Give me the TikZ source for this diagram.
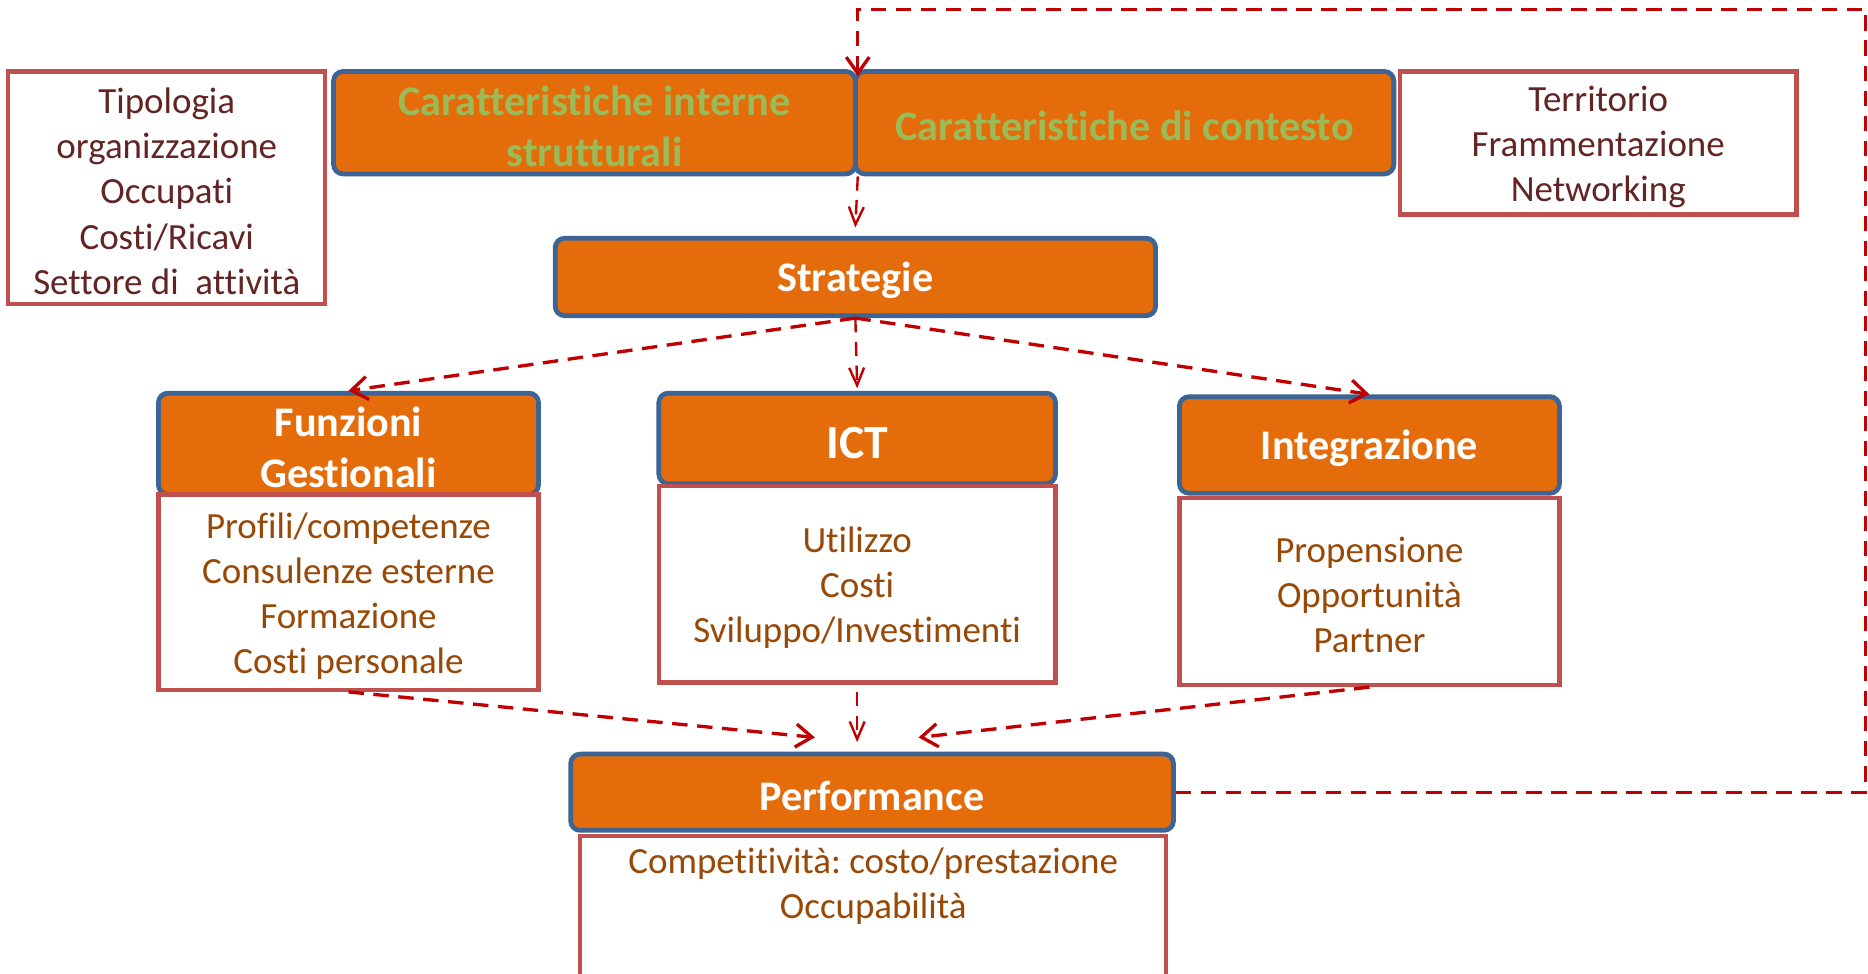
\documentclass[tikz,border=0pt]{standalone}
\usepackage{fontspec}
\setmainfont{Carlito}[Ligatures={NoCommon,NoRare}]
\frenchspacing
\usetikzlibrary{arrows.meta}
\definecolor{arancio}{HTML}{E46C0A}
\definecolor{bordoblu}{HTML}{3C6494}
\definecolor{bordorosso}{HTML}{C0504D}
\definecolor{rossoscuro}{HTML}{C00000}
\definecolor{verde}{HTML}{9BBB59}
\definecolor{marrone}{HTML}{984807}
\definecolor{bruno}{HTML}{632523}
\newcommand{\arw}{-{Straight Barb[length=2.4mm,width=3.4mm]}}
\newcommand{\arwv}{-{Straight Barb[length=2.6mm,width=2.2mm]}}
\newcommand{\alza}{\rule{0pt}{\dimexpr.7em+3pt\relax}}
\tikzset{
  titolo/.style={draw=bordoblu, line width=2pt, fill=arancio, rounded corners=4pt,
    text=white, font=\fontsize{17.7}{21.5}\selectfont\bfseries, align=center, inner sep=0pt},
  dettaglio/.style={draw=bordorosso, line width=1.8pt, fill=white, text=marrone,
    font=\fontsize{15.5}{18.9}\selectfont, align=center, inner sep=0pt},
  freccia/.style={draw=rossoscuro, line width=1.4pt, dash pattern=on 6.5pt off 4pt},
  frecciav/.style={draw=rossoscuro, line width=1pt, dash pattern=on 6pt off 4pt},
}

\begin{document}
\begin{tikzpicture}[x=.5pt,y=-.5pt]
\useasboundingbox (0,0) rectangle (1568,817);
%fattori
\node[dettaglio,text=bruno,minimum width=133pt,minimum height=97.5pt] (tipo) at (140,157.5)
  {\alza Tipologia\\organizzazione\\Occupati\\Costi/Ricavi\\Settore di\ \ attività};
\node[titolo,text=verde,minimum width=219pt,minimum height=43pt] (interne) at (499,103)
  {\alza Caratteristiche interne\\strutturali};
\node[titolo,text=verde,minimum width=226pt,minimum height=43pt] (contesto) at (944,103)
  {\alza Caratteristiche di contesto};
\node[dettaglio,text=bruno,minimum width=166.5pt,minimum height=60pt] (territorio) at (1341.5,120)
  {\alza Territorio\\Frammentazione\\Networking};
%strategie
\node[titolo,minimum width=252pt,minimum height=32.5pt] (strategie) at (718,232.5) {\alza Strategie};
\node[titolo,minimum width=159.5pt,minimum height=42.5pt] (funzioni) at (292.5,372.5)
  {\alza Funzioni\\Gestionali};
\node[dettaglio,minimum width=159.5pt,minimum height=82pt] (funzdet) at (292.5,497)
  {\alza Profili/competenze\\Consulenze esterne\\Formazione\\Costi personale};
\node[titolo,font=\fontsize{20}{24}\selectfont\bfseries,minimum width=166.5pt,minimum height=38pt] (ict) at (719.5,368) {\alza ICT};
\node[dettaglio,minimum width=166.5pt,minimum height=82.5pt] (ictdet) at (719.5,490.5)
  {\alza Utilizzo\\Costi\\Sviluppo/Investimenti};
\node[titolo,minimum width=159.5pt,minimum height=40.5pt] (integr) at (1149.5,373.5) {\alza Integrazione};
\node[dettaglio,minimum width=159.5pt,minimum height=78.5pt] (integrdet) at (1149.5,496.5)
  {\alza Propensione\\Opportunità\\Partner};
%performance
\node[titolo,minimum width=253pt,minimum height=32pt] (perf) at (732,665) {\alza Performance};
\node[dettaglio,anchor=north,minimum width=246pt,minimum height=65pt] (perfdet) at (733,700) {};
\node[dettaglio,draw=none,fill=none] (perftesto) at (733,744)
  {Competitività: costo/prestazione\\Occupabilità};
%frecce
\coordinate (ritorno) at (1566,8);
\draw[freccia,\arw] (perf.east) -| (ritorno) -| ([yshift=-3pt]interne.north east);
\draw[frecciav,\arwv] (interne.south east) -- ([yshift=3.5pt]strategie.north);
\draw[freccia,\arw] (strategie.south) -- (funzioni.north);
\draw[frecciav,\arwv] (strategie.south) -- ([yshift=1pt]ict.north);
\draw[freccia,\arw] (strategie.south) -- (integr.north);
\draw[freccia,\arw] (funzdet.south) -- ([xshift=-24pt,yshift=6pt]perf.north);
\draw[frecciav,\arwv] ([yshift=-3pt]ictdet.south) -- ([yshift=4pt]ictdet.south |- perf.north);
\draw[freccia,\arw] (integrdet.south) -- ([xshift=19.5pt,yshift=6pt]perf.north);
\end{tikzpicture}
\end{document}
